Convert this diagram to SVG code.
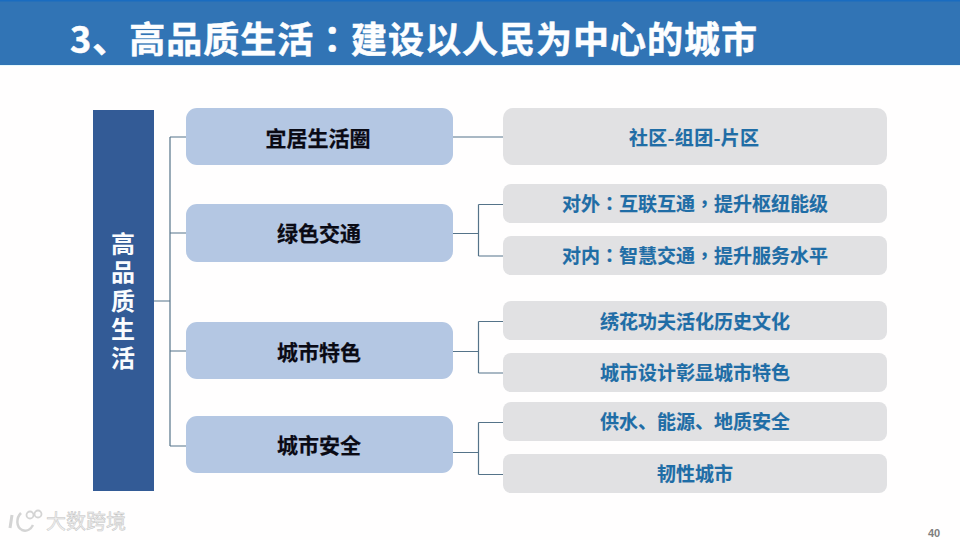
<svg xmlns="http://www.w3.org/2000/svg" width="960" height="540" viewBox="0 0 960 540">
<style>
text{font-family:"Noto Sans CJK SC","Noto Sans CJK TC",sans-serif;font-weight:700;text-anchor:middle}
.c{font-family:"Noto Sans CJK TC","Noto Sans CJK SC",sans-serif}
.l{fill:#b4c7e3}
.r{fill:#e1e1e3}
.lt{font-size:21px;fill:#0a0a14;stroke:#0a0a14;stroke-width:.25px}
.rt{font-size:19px;fill:#1f6da6;stroke:#1f6da6;stroke-width:.15px}
.con{fill:none;stroke:#557389;stroke-width:1.2}
</style>
<rect width="960" height="540" fill="#fffefe"/>
<g id="header">
<rect x="0" y="0" width="960" height="65" fill="#3174b5"/>
<rect x="0" y="0" width="960" height="1.5" fill="#1a6cc0"/>
<rect x="0" y="65" width="960" height="1" fill="#e6f8fc"/>
<text x="70" y="53" font-size="36" fill="#fdfeff" stroke="#fdfeff" stroke-width=".5" style="text-anchor:start" textLength="687" lengthAdjust="spacing">3、高品质生活<tspan class="c">：</tspan>建设以人民为中心的城市</text>
</g>
<g id="connectors" class="con">
<path d="M154 301H170M170 137H187M170 137V446M170 233H187M170 351H187M170 446H187"/>
<path d="M453 137H504"/>
<path d="M453 233.500H478.500M478.500 204.500V256M478.500 204.500H504M478.500 256H504"/>
<path d="M453 351.500H478.500M478.500 321.500V373M478.500 321.500H504M478.500 373H504"/>
<path d="M453 452.500H478.500M478.500 422.500V474.500M478.500 422.500H504M478.500 474.500H504"/>
</g>
<g id="root">
<rect x="93" y="110" width="61" height="381" fill="#335b96"/>
<text x="123" y="303" font-size="24" fill="#fafcfe" letter-spacing="4.500" style="writing-mode:vertical-rl;text-orientation:upright">高品质生活</text>
</g>
<g id="n1"><rect class="l" x="186" y="108" width="267" height="57" rx="11"/><text class="lt" x="318" y="146">宜居生活圈</text></g>
<g id="n2"><rect class="l" x="186" y="204" width="267" height="58" rx="11"/><text class="lt" x="319" y="241">绿色交通</text></g>
<g id="n3"><rect class="l" x="186" y="322" width="267" height="57" rx="11"/><text class="lt" x="319" y="360">城市特色</text></g>
<g id="n4"><rect class="l" x="186" y="416" width="267" height="57" rx="11"/><text class="lt" x="319" y="453">城市安全</text></g>
<g id="r1"><rect class="r" x="503" y="108" width="384" height="57" rx="10"/><text class="rt" x="694" y="145" textLength="130">社区-组团-片区</text></g>
<g id="r2"><rect class="r" x="503" y="184" width="384" height="39" rx="8"/><text class="rt" x="695" y="211">对外<tspan class="c">：</tspan>互联互通<tspan class="c">，</tspan>提升枢纽能级</text></g>
<g id="r3"><rect class="r" x="503" y="236" width="384" height="39" rx="8"/><text class="rt" x="695" y="263">对内<tspan class="c">：</tspan>智慧交通<tspan class="c">，</tspan>提升服务水平</text></g>
<g id="r4"><rect class="r" x="503" y="301" width="384" height="39" rx="8"/><text class="rt" x="695" y="329">绣花功夫活化历史文化</text></g>
<g id="r5"><rect class="r" x="503" y="353" width="384" height="39" rx="8"/><text class="rt" x="695" y="380">城市设计彰显城市特色</text></g>
<g id="r6"><rect class="r" x="503" y="402" width="384" height="39" rx="8"/><text class="rt" x="695" y="429">供水、能源、地质安全</text></g>
<g id="r7"><rect class="r" x="503" y="454" width="384" height="39" rx="8"/><text class="rt" x="695" y="481">韧性城市</text></g>
<text x="934" y="537" font-size="11" fill="#7f7f7f" style="font-family:'Liberation Sans',sans-serif">40</text>
<g id="watermark" fill="none" stroke="#d4d4d4">
<path d="M12 515L10 528" stroke-width="3"/>
<path d="M21 513C16 518 16 527 22 530C27 532 31 529 33 525" stroke-width="2.500"/>
<circle cx="30" cy="515" r="3.500" stroke-width="1.800"/>
<circle cx="38" cy="514" r="3.500" stroke-width="1.800"/>
<text x="86" y="529" font-size="20" fill="#f0f0f0" stroke="#c4c4c4" stroke-width=".5" style="font-weight:400">大数跨境</text>
</g>
</svg>
